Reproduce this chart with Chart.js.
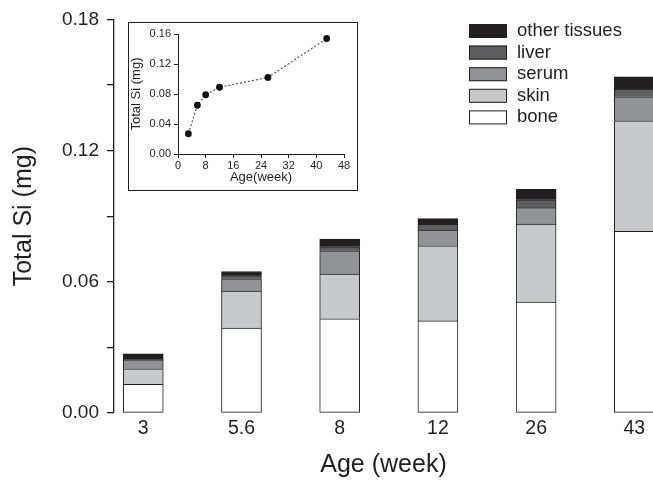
<!DOCTYPE html>
<html>
<head>
<meta charset="utf-8">
<script src="https://cdn.jsdelivr.net/npm/chart.js@4.4.1/dist/chart.umd.min.js"></script>
<style>
html,body{margin:0;padding:0;background:#fff;overflow:hidden}
#wrap{position:relative;width:653px;height:481px}
#main{position:absolute;left:0;top:0}
#inset-box{position:absolute;left:128px;top:22px;width:230px;height:169px;border:1px solid #231f20;box-sizing:border-box;background:#fff}
#inset{position:absolute;left:0;top:0}
</style>
</head>
<body>
<div id="wrap">
<canvas id="main" width="653" height="481"></canvas>
<div id="inset-box"><canvas id="inset" width="228" height="167"></canvas></div>
</div>
<script>
// main stacked bars (mg), bottom to top
const categories = ["3", "5.6", "8", "12", "26", "43"]
const bone   = [0.0131, 0.0388, 0.0431, 0.0421, 0.0507, 0.0831]
const skin   = [0.0071, 0.0169, 0.0204, 0.0344, 0.0357, 0.0505]
const serum  = [0.0041, 0.0057, 0.0107, 0.0071, 0.0075, 0.0110]
const liver  = [0.0003, 0.0014, 0.0018, 0.0027, 0.0036, 0.0035]
const others = [0.0025, 0.0019, 0.0035, 0.0026, 0.0048, 0.0056]
const yTicks  = [0, 0.03, 0.06, 0.09, 0.12, 0.15, 0.18]
const yLabels = ["0.00", "", "0.06", "", "0.12", "", "0.18"]

// inset: total Si vs age
const insetAge   = [3, 5.6, 8, 12, 26, 43]
const insetTotal = [0.027, 0.065, 0.079, 0.089, 0.102, 0.154]
const insetXTicks = [0, 8, 16, 24, 32, 40, 48]
const insetYTicks = [0, 0.04, 0.08, 0.12, 0.16]
const insetYLabels = ["0.00", "0.04", "0.08", "0.12", "0.16"]

const ink = "#231f20"
const family = "'Liberation Sans', Arial, Helvetica, sans-serif"

const asPoints = arr => arr.map((v, i) => ({x: i, y: v}))

const makeSet = (label, values, color, skipped) => ({
    label: label,
    data: asPoints(values),
    backgroundColor: color,
    borderColor: ink,
    borderWidth: 1,
    borderSkipped: skipped,
    barThickness: 40
})

// legend drawn over the plot, top item = top of stack
const boxLegend = {
    id: "boxLegend",
    afterDraw(chart) {
        const ctx = chart.ctx
        const sets = chart.data.datasets.slice().reverse()
        ctx.save()
        ctx.font = "18.5px " + family
        ctx.textBaseline = "middle"
        sets.forEach((ds, i) => {
            const y = 24 + i * 21.6
            ctx.fillStyle = ds.backgroundColor
            ctx.fillRect(469, y, 38, 14)
            ctx.strokeStyle = ink
            ctx.lineWidth = 1
            ctx.strokeRect(469.5, y + 0.5, 37, 13)
            ctx.fillStyle = ink
            ctx.fillText(ds.label, 517, y + 7)
        })
        ctx.restore()
    }
}

new Chart(document.getElementById("main"), {
    type: "bar",
    data: {
        datasets: [
            makeSet("bone", bone, "#ffffff", false),
            makeSet("skin", skin, "#c8c9cb", "start"),
            makeSet("serum", serum, "#929396", "start"),
            makeSet("liver", liver, "#5e5e60", "start"),
            makeSet("other tissues", others, ink, "start")
        ]
    },
    options: {
        responsive: false,
        animation: false,
        layout: {padding: {top: 15, right: 0, left: 0, bottom: 0}},
        plugins: {legend: {display: false}, tooltip: {enabled: false}},
        scales: {
            x: {
                type: "linear",
                stacked: true,
                offset: false,
                min: -0.298,
                max: 5.19,
                afterBuildTicks: scale => { scale.ticks = categories.map((c, i) => ({value: i})) },
                afterFit: scale => { scale.height = 68 },
                grid: {display: false, drawTicks: false},
                border: {display: false},
                ticks: {
                    color: ink,
                    padding: 4,
                    font: {family: family, size: 19.5},
                    callback: v => categories[Math.round(v)]
                },
                title: {
                    display: true,
                    text: "Age (week)",
                    color: ink,
                    font: {family: family, size: 25},
                    padding: {top: 0, bottom: 1}
                }
            },
            y: {
                stacked: true,
                min: 0,
                max: 0.18,
                afterBuildTicks: scale => { scale.ticks = yTicks.map(v => ({value: v})) },
                afterFit: scale => { scale.width = 114 },
                grid: {drawOnChartArea: false, tickLength: 7, color: ink, lineWidth: 1.3},
                border: {display: true, color: ink, width: 1.3},
                ticks: {
                    color: ink,
                    padding: 8,
                    font: {family: family, size: 19},
                    callback: (v, i) => yLabels[i]
                },
                title: {
                    display: true,
                    text: "Total Si (mg)",
                    color: ink,
                    font: {family: family, size: 25},
                    padding: {top: 9, bottom: 0}
                }
            }
        }
    },
    plugins: [boxLegend]
})

new Chart(document.getElementById("inset"), {
    type: "line",
    data: {
        datasets: [{
            data: insetAge.map((a, i) => ({x: a, y: insetTotal[i]})),
            borderColor: "#555555",
            borderWidth: 1.2,
            borderDash: [2, 2],
            pointRadius: 3.4,
            pointBackgroundColor: "#111111",
            pointBorderWidth: 0,
            fill: false
        }]
    },
    options: {
        responsive: false,
        animation: false,
        layout: {padding: {top: 11, right: 13, left: 0, bottom: 0}},
        plugins: {legend: {display: false}, tooltip: {enabled: false}},
        scales: {
            x: {
                type: "linear",
                min: 0,
                max: 48,
                afterBuildTicks: scale => { scale.ticks = insetXTicks.map(v => ({value: v})) },
                afterFit: scale => { scale.height = 36 },
                grid: {drawOnChartArea: false, tickLength: 4, color: ink},
                border: {display: true, color: ink, width: 1},
                ticks: {color: ink, padding: 1, font: {family: family, size: 11}},
                title: {
                    display: true,
                    text: "Age(week)",
                    color: ink,
                    font: {family: family, size: 13},
                    padding: {top: 0, bottom: 5}
                }
            },
            y: {
                min: 0,
                max: 0.16,
                afterBuildTicks: scale => { scale.ticks = insetYTicks.map(v => ({value: v})) },
                afterFit: scale => { scale.width = 49 },
                grid: {drawOnChartArea: false, tickLength: 4, color: ink},
                border: {display: true, color: ink, width: 1},
                ticks: {
                    color: ink,
                    padding: 3,
                    font: {family: family, size: 11},
                    callback: (v, i) => insetYLabels[i]
                },
                title: {
                    display: true,
                    text: "Total Si (mg)",
                    color: ink,
                    font: {family: family, size: 13},
                    padding: {top: 0, bottom: 0}
                }
            }
        }
    }
})
</script>
</body>
</html>
